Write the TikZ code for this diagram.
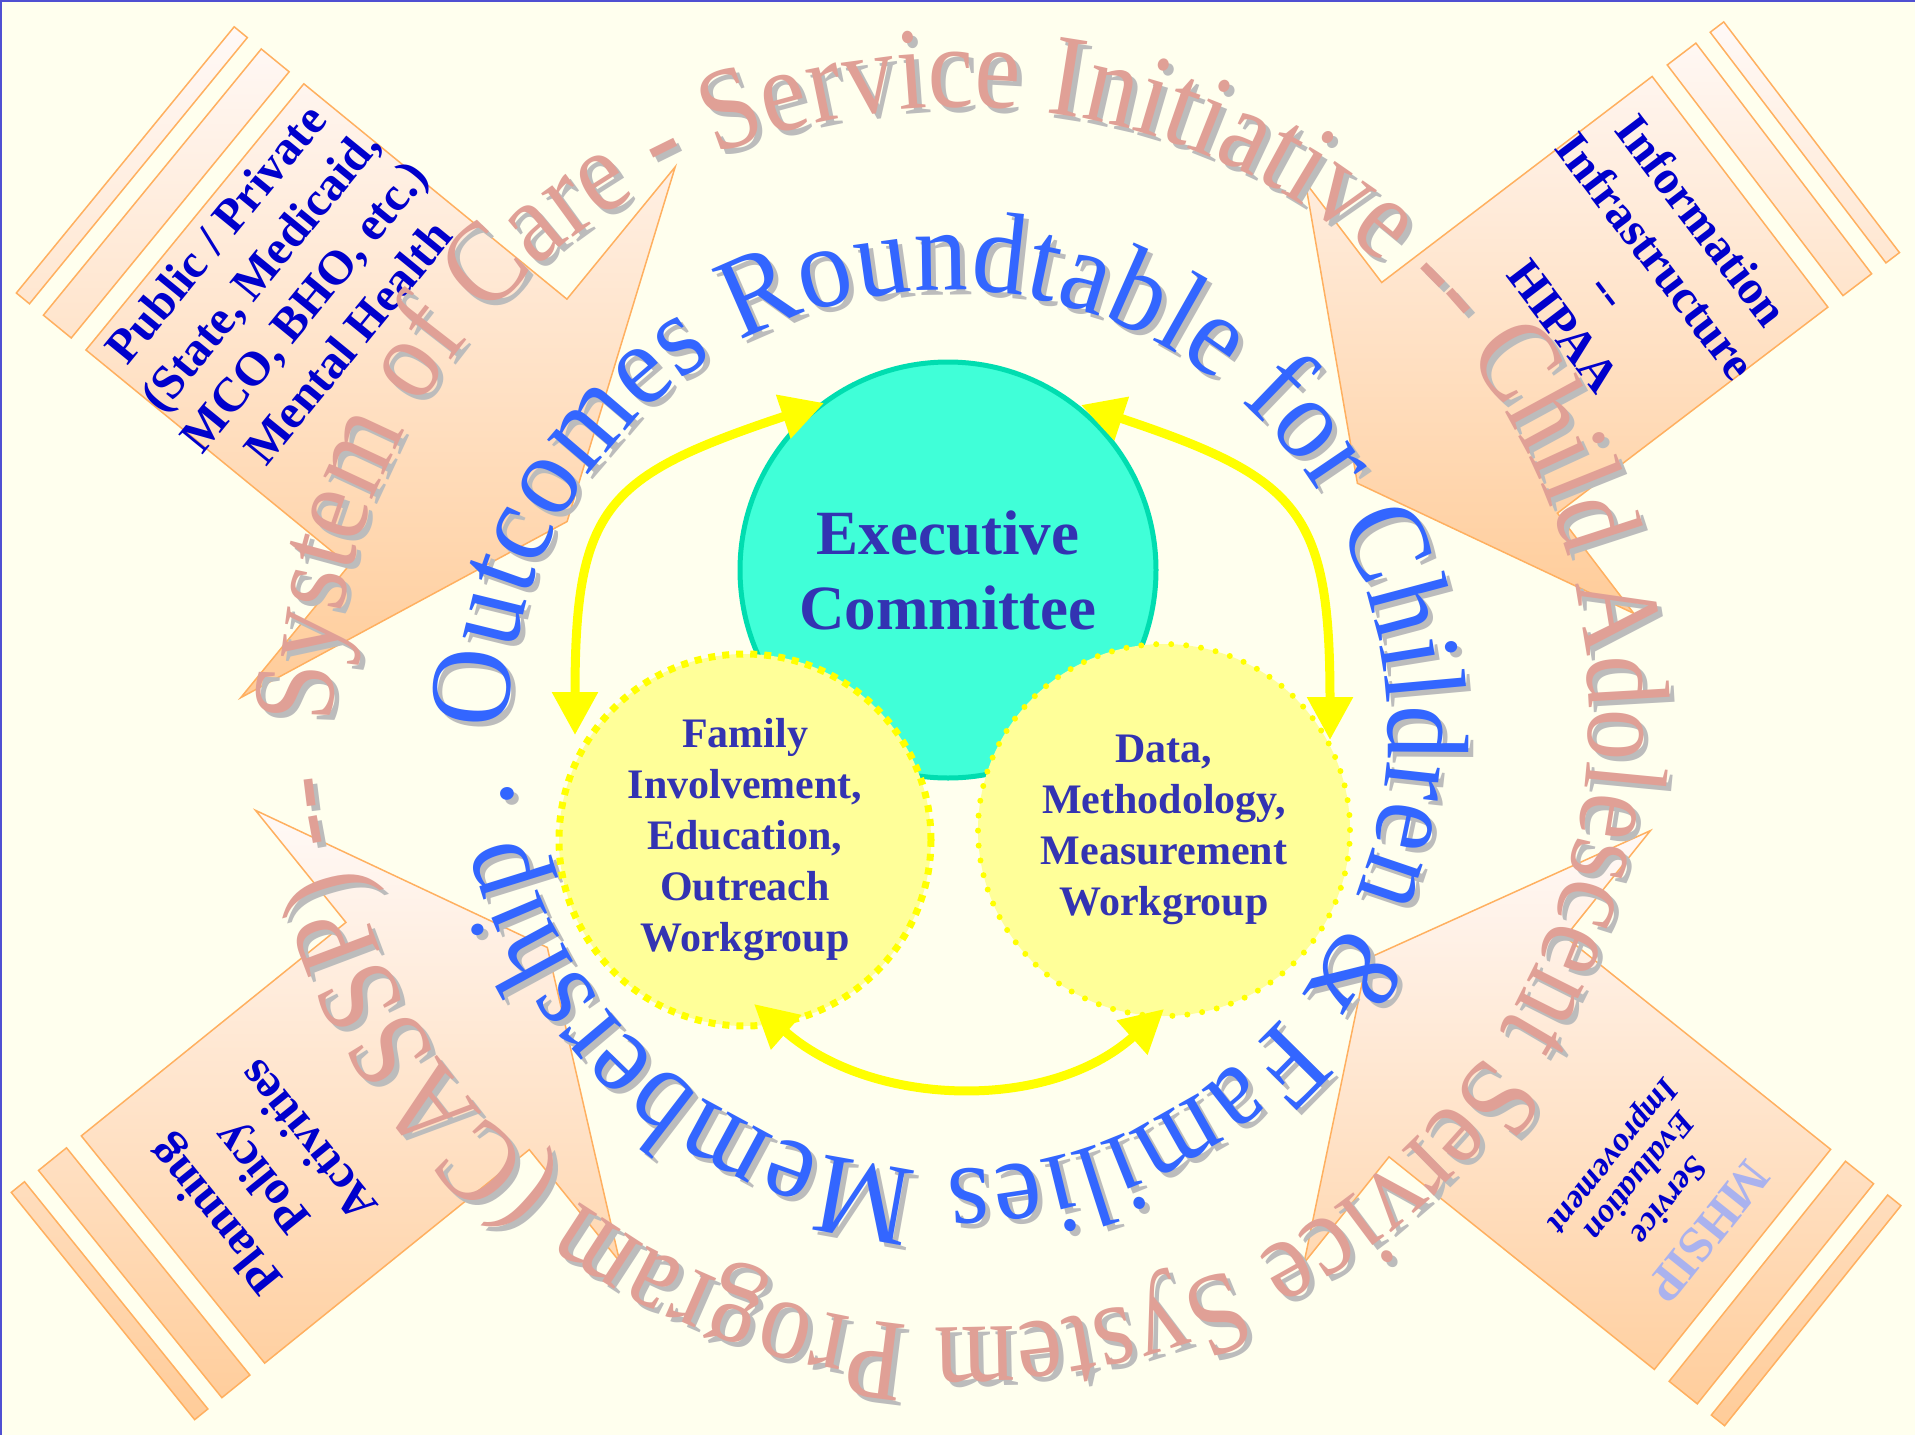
\documentclass[tikz,border=0pt]{standalone}
\usepackage{fontspec}
\setmainfont{Liberation Serif}
\newfontfamily\arcfontO[FakeStretch=0.88]{Liberation Serif}
\newfontfamily\arcfontI[FakeStretch=0.93]{Liberation Serif}
\usetikzlibrary{calc,decorations.text,arrows.meta}

\definecolor{bgcol}{RGB}{255,255,238}
\definecolor{frameblue}{RGB}{80,80,210}
\definecolor{arrowline}{RGB}{255,176,96}
\definecolor{arrowtop}{RGB}{255,249,247}
\definecolor{arrowbot}{RGB}{255,204,153}
\definecolor{arrowtext}{RGB}{0,0,204}
\definecolor{mhsipcol}{RGB}{170,178,238}
\definecolor{salmon}{RGB}{224,160,150}
\definecolor{shadowgray}{RGB}{188,188,188}
\definecolor{ringblue}{RGB}{51,102,255}
\definecolor{execfill}{RGB}{64,255,216}
\definecolor{execline}{RGB}{0,221,176}
\definecolor{wgfill}{RGB}{255,255,153}
\definecolor{wgline}{RGB}{255,255,0}
\definecolor{labelblue}{RGB}{51,51,178}
\definecolor{conyellow}{RGB}{255,255,0}

% block arrow: #1 tail-centre coordinate, #2 direction (deg), #3 body half width, #4 head half width
\newcommand\blockarrow[4]{%
  \path[arrowshape]
    ($(#1)+(#2+90:#3)$) -- ($(#1)+(#2:340)+(#2+90:#3)$) -- ($(#1)+(#2:340)+(#2+90:#4)$)
    -- ($(#1)+(#2:481)$) -- ($(#1)+(#2:340)+(#2-90:#4)$) -- ($(#1)+(#2:340)+(#2-90:#3)$)
    -- ($(#1)+(#2-90:#3)$) -- cycle
    ($(#1)+(#2:-19)+(#2+90:#3)$) -- ($(#1)+(#2:-55)+(#2+90:#3)$) -- ($(#1)+(#2:-55)+(#2-90:#3)$) -- ($(#1)+(#2:-19)+(#2-90:#3)$) -- cycle
    ($(#1)+(#2:-73)+(#2+90:#3)$) -- ($(#1)+(#2:-90)+(#2+90:#3)$) -- ($(#1)+(#2:-90)+(#2-90:#3)$) -- ($(#1)+(#2:-73)+(#2-90:#3)$) -- cycle;}

\newcommand\outerring[2]{%
  \path[shift={#2},decorate,decoration={text along path,text align={fit to path},
    text={|\color{#1}\arcfontO\fontsize{117}{117}\selectfont|System of Care - Service Initiative -- Child Adolescent Service System Program (CASSP) --}}]
    (961,717) ++(179.5:628 and 610) arc[start angle=179.5,end angle=534.7,x radius=628,y radius=610];}

\newcommand\innerring[2]{%
  \path[shift={#2},decorate,decoration={text along path,text align={fit to path},
    text={|\color{#1}\arcfontI\fontsize{116}{116}\selectfont|Outcomes Roundtable for Children {\&} Families Membership .}}]
    (948,730) ++(180:440) arc[start angle=180,end angle=533.5,radius=440];}

\begin{document}
\begin{tikzpicture}[x=1pt,y=-1pt,
  arrowshape/.style={draw=arrowline,line width=1.5pt,top color=arrowtop,bottom color=arrowbot},
  arrowlabel/.style={text=arrowtext,align=center,inner sep=0pt,font=\bfseries\fontsize{48}{57}\selectfont},
  brlabel/.style={text=arrowtext,inner sep=0pt,rotate=231.3,font=\bfseries\itshape\fontsize{34}{34}\selectfont},
  execnode/.style={circle,draw=execline,line width=5pt,fill=execfill,minimum size=416pt,inner sep=0pt,
    align=center,text=labelblue,font=\bfseries\fontsize{63}{75}\selectfont},
  wgnode/.style={circle,draw=wgline,line width=7pt,fill=wgfill,minimum size=372pt,inner sep=0pt,
    align=center,text=labelblue,font=\bfseries\fontsize{42}{51}\selectfont},
  squaredots/.style={dash pattern=on 7pt off 7pt},
  rounddots/.style={line width=6pt,line cap=round,dash pattern=on 0pt off 15pt},
  ycon/.style={draw=conyellow,line width=9pt,arrows={Triangle[length=43pt,width=44pt]-Triangle[length=43pt,width=44pt]}}]

\useasboundingbox (0,0) rectangle (1915,1435);
\clip (0,0) rectangle (1915,1435);
\fill[bgcol] (0,0) rectangle (1915,1435);
\draw[frameblue,line width=2pt] (1,1435) -- (1,1) -- (1915,1);

% block arrows
\coordinate (tlM) at (194.9,216.9);
\coordinate (trM) at (1740,191.8);
\coordinate (blM) at (173,1249.5);
\coordinate (brM) at (1742.5,1259.4);
\blockarrow{tlM}{39.3}{172}{343}
\blockarrow{trM}{142.7}{145}{271}
\blockarrow{blM}{-38.9}{146}{290}
\blockarrow{brM}{-141.3}{141}{277}

% arrow labels
\node[arrowlabel,rotate=50.7] (tllabel) at ($(tlM)+(39.3:112)$)
  {Public / Private\\(State, Medicaid,\\MCO, BHO, etc.)\\Mental Health};
\node[arrowlabel,rotate=-52.7,font=\bfseries\fontsize{48}{58}\selectfont] (trlabel) at ($(trM)+(142.7:134)$)
  {Information\\Infrastructure\\-{}-\\HIPAA};
\node[arrowlabel,rotate=128.9,font=\bfseries\fontsize{48}{60}\selectfont] (bllabel) at ($(blM)+(-38.9:112)$)
  {Planning\\Policy\\Activities};
\node[text=mhsipcol,inner sep=0pt,rotate=231.3,font=\bfseries\fontsize{50}{50}\selectfont] (mhsip) at ($(brM)+(-141.3:44)$) {MHSIP};
\node[brlabel] (svc) at ($(brM)+(-141.3:93)$) {Service};
\node[brlabel] (evl) at ($(brM)+(-141.3:131)$) {Evaluation};
\node[brlabel] (imp) at ($(brM)+(-141.3:168)$) {Improvement};

% ring texts
\outerring{shadowgray}{(5,5)}
\outerring{salmon}{(0,0)}
\innerring{shadowgray}{(5,5)}
\innerring{ringblue}{(0,0)}

% committee circles
\node[execnode] (exec) at (948,570) {Executive\\Committee};
\node[wgnode,squaredots] (family) at (745,840) {Family\\Involvement,\\Education,\\Outreach\\Workgroup};
\node[wgnode,rounddots] (data) at (1164,830) {Data,\\Methodology,\\Measurement\\Workgroup};

% yellow connectors
\coordinate (la1) at (824,403);
\coordinate (la2) at (575,735);
\coordinate (ra1) at (1081,405);
\coordinate (ra2) at (1330,740);
\coordinate (ba1) at (754,1004);
\coordinate (ba2) at (1164,1009);
\draw[ycon] (la1) .. controls +(-218,73) and +(0,-230) .. (la2);
\draw[ycon] (ra1) .. controls +(218,73) and +(0,-230) .. (ra2);
\draw[ycon] (ba1) .. controls +(117,103) and +(-116,104) .. (ba2);
\end{tikzpicture}
\end{document}
